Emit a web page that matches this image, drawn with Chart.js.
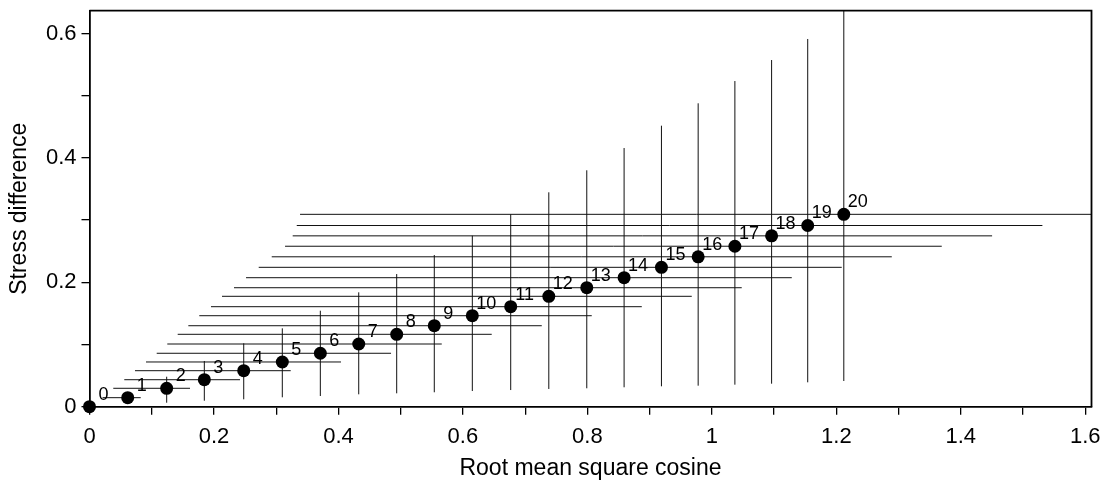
<!DOCTYPE html>
<html>
<head>
<meta charset="utf-8">
<script src="https://cdn.jsdelivr.net/npm/chart.js@4/dist/chart.umd.min.js"></script>
<style>
    html, body { margin: 0; padding: 0; background: #fff; }
    #wrapper-chart { width: 1108px; height: 484px; }
</style>
</head>
<body>
<div id="wrapper-chart"><canvas id="chartStress"></canvas></div>
<script>
// point labels 0..20
const pointLabels = ["0", "1", "2", "3", "4", "5", "6", "7", "8", "9", "10",
    "11", "12", "13", "14", "15", "16", "17", "18", "19", "20"];

// root mean square cosine (x) and stress difference (y)
const xMean = [0, 0.0614, 0.124, 0.1845, 0.2478, 0.3098, 0.3709, 0.4326, 0.4936, 0.554, 0.6151,
    0.6768, 0.738, 0.799, 0.859, 0.919, 0.978, 1.037, 1.096, 1.154, 1.212];
const yMean = [0, 0.0145, 0.0296, 0.0434, 0.0579, 0.0719, 0.0859, 0.1008, 0.1164, 0.1302, 0.1463,
    0.1608, 0.1775, 0.1913, 0.2074, 0.2241, 0.241, 0.258, 0.2747, 0.2913, 0.3093];

// horizontal ranges
const xLow = [0, 0.021, 0.0382, 0.0559, 0.0731, 0.0908, 0.108, 0.125, 0.1417, 0.1588, 0.1764,
    0.1952, 0.2129, 0.2322, 0.2515, 0.2719, 0.2928, 0.3142, 0.3265, 0.333, 0.3383];
const xHigh = [0, 0.0823, 0.1615, 0.2418, 0.3233, 0.4041, 0.4845, 0.566, 0.6463, 0.7267, 0.807,
    0.8874, 0.9677, 1.048, 1.1284, 1.2087, 1.2891, 1.3694, 1.4503, 1.5311, 1.65];

// vertical ranges
const yLow = [0, 0.0043, 0.0064, 0.0096, 0.0119, 0.0151, 0.0172, 0.0199, 0.0215, 0.0232, 0.0252,
    0.0268, 0.0285, 0.0296, 0.0312, 0.0328, 0.0338, 0.0354, 0.037, 0.0392, 0.0413];
const yHigh = [0, 0.0212, 0.0482, 0.0735, 0.1019, 0.126, 0.1543, 0.1839, 0.2133, 0.2439, 0.2749,
    0.3093, 0.3447, 0.3801, 0.4159, 0.4518, 0.4878, 0.5236, 0.5574, 0.5912, 0.66];

const FONT = "'Liberation Sans', Arial, Helvetica, sans-serif";

let datasets = [{
    label: "points",
    data: xMean.map((x, i) => ({ x: x, y: yMean[i] })),
    pointRadius: 6.5,
    pointHoverRadius: 6.5,
    pointBackgroundColor: "#000",
    pointBorderWidth: 0,
    showLine: false,
    clip: false
}];

function segment(p1, p2) {
    return {
        data: [p1, p2],
        showLine: true,
        borderColor: "#111",
        borderWidth: 1,
        pointRadius: 0,
        pointHoverRadius: 0,
        clip: 0
    };
}

for (let i = 0; i < xMean.length; i++) {
    if (xHigh[i] > xLow[i]) {
        datasets.push(segment({ x: xLow[i], y: yMean[i] }, { x: xHigh[i], y: yMean[i] }));
    }
    if (yHigh[i] > yLow[i]) {
        datasets.push(segment({ x: xMean[i], y: yLow[i] }, { x: xMean[i], y: yHigh[i] }));
    }
}

// frame on top and right
const framePlugin = {
    id: "frame",
    afterDraw(chart) {
        let a = chart.chartArea;
        let ctx = chart.ctx;
        ctx.save();
        ctx.strokeStyle = "#000";
        ctx.lineWidth = 1.8;
        ctx.beginPath();
        ctx.moveTo(a.left, a.top);
        ctx.lineTo(a.right, a.top);
        ctx.lineTo(a.right, a.bottom);
        ctx.stroke();
        ctx.restore();
    }
};

// number next to each point
const labelPlugin = {
    id: "pointLabels",
    afterDatasetsDraw(chart) {
        let ctx = chart.ctx;
        let xs = chart.scales.x;
        let ys = chart.scales.y;
        ctx.save();
        ctx.fillStyle = "#000";
        ctx.font = "18px " + FONT;
        ctx.textAlign = "center";
        ctx.textBaseline = "middle";
        for (let i = 0; i < pointLabels.length; i++) {
            ctx.fillText(pointLabels[i], xs.getPixelForValue(xMean[i]) + 14, ys.getPixelForValue(yMean[i]) - 12);
        }
        ctx.restore();
    }
};

function tickLabel(value) {
    let v = Math.round(value * 10);
    if (v % 2 !== 0) return "";
    return String(v / 10);
}

const axisCommon = {
    type: "linear",
    min: 0,
    grid: {
        drawOnChartArea: false,
        drawTicks: true,
        tickLength: 8,
        color: "#000",
        lineWidth: 1.3
    },
    border: { display: true, color: "#000", width: 1.8 }
};

new Chart(document.getElementById("chartStress"), {
    type: "scatter",
    data: { datasets: datasets },
    plugins: [framePlugin, labelPlugin],
    options: {
        responsive: true,
        maintainAspectRatio: false,
        animation: false,
        events: [],
        layout: { padding: { left: 0, right: 16.5, top: 10.7, bottom: 0 } },
        plugins: {
            legend: { display: false },
            tooltip: { enabled: false }
        },
        scales: {
            x: Object.assign({}, axisCommon, {
                position: "bottom",
                max: 1.61,
                afterFit: (scale) => {
                    scale.height = 77.3;
                    scale.paddingLeft = 0;
                    scale.paddingRight = 0;
                },
                ticks: {
                    stepSize: 0.1,
                    includeBounds: false,
                    autoSkip: false,
                    maxRotation: 0,
                    padding: 9,
                    color: "#000",
                    font: { family: FONT, size: 22 },
                    callback: tickLabel
                },
                title: {
                    display: true,
                    text: "Root mean square cosine",
                    color: "#000",
                    font: { family: FONT, size: 23 },
                    padding: { top: 0, bottom: 2 }
                }
            }),
            y: Object.assign({}, axisCommon, {
                position: "left",
                max: 0.6367,
                afterFit: (scale) => {
                    scale.width = 89.5;
                    scale.paddingTop = 0;
                    scale.paddingBottom = 0;
                },
                ticks: {
                    stepSize: 0.1,
                    includeBounds: false,
                    autoSkip: false,
                    padding: 5,
                    color: "#000",
                    font: { family: FONT, size: 22 },
                    callback: tickLabel
                },
                title: {
                    display: true,
                    text: "Stress difference",
                    color: "#000",
                    font: { family: FONT, size: 23 },
                    padding: { top: 6, bottom: 0 }
                }
            })
        }
    }
});
</script>
</body>
</html>
